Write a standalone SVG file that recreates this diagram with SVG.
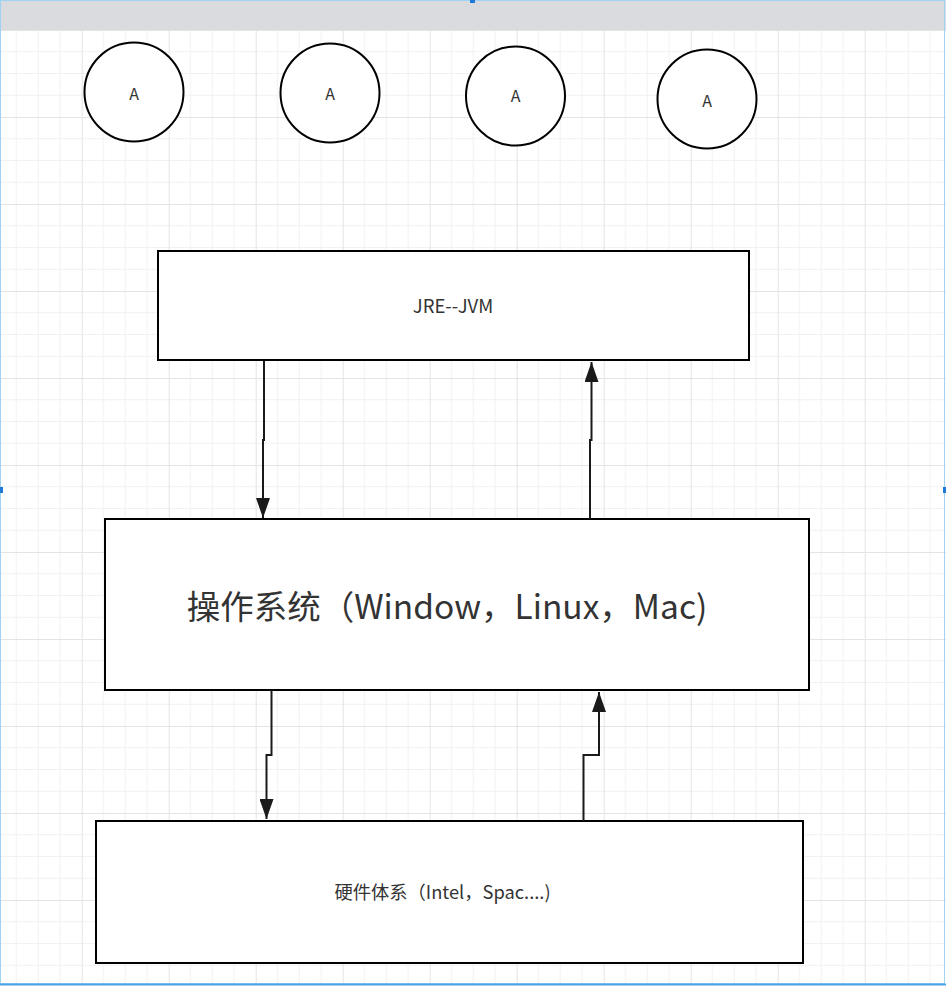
<svg xmlns="http://www.w3.org/2000/svg" width="946" height="986" viewBox="0 0 946 986">
<defs>
<style>
.node{fill:#fff;stroke:#000;stroke-width:2}
.lbl{font-family:"Noto Sans CJK SC","Liberation Sans",sans-serif;fill:#333;text-anchor:middle;dominant-baseline:central}
.edge{fill:none;stroke:#1a1a1a;stroke-width:2}
</style>
<pattern id="grid" x="-5.3" y="30" width="87" height="87" patternUnits="userSpaceOnUse">
<path d="M21.75,0V87M43.5,0V87M65.25,0V87M0,21.75H87M0,43.5H87M0,65.25H87" stroke="#f1f1f1" stroke-width="1" fill="none"/>
<path d="M0.5,0V87M0,0.5H87" stroke="#e4e4e4" stroke-width="1" fill="none"/>
</pattern>
<marker id="arr" viewBox="0 0 20 14" refX="20" refY="7" markerWidth="20" markerHeight="14" markerUnits="userSpaceOnUse" orient="auto">
<path d="M0,0L20,7L0,14z" fill="#1a1a1a"/>
</marker>
</defs>
<rect x="0" y="0" width="946" height="986" fill="#fff"/>
<rect x="0" y="30" width="946" height="956" fill="url(#grid)"/>
<rect x="0" y="0" width="946" height="30" fill="#d9dbde"/>
<g id="frame">
<rect x="0.5" y="0.5" width="944" height="983" fill="none" stroke="#9fd3f3" stroke-width="1"/>
<line x1="0" y1="984.5" x2="946" y2="984.5" stroke="#4aa3e6" stroke-width="2"/>
<rect x="470" y="0" width="5" height="3" fill="#1e7ad6"/>
<rect x="0" y="487" width="3" height="6" fill="#1e7ad6"/>
<rect x="943" y="487" width="3" height="6" fill="#1e7ad6"/>
</g>
<g id="c1"><circle class="node" cx="134" cy="92" r="49.5"/><text class="lbl" x="134" y="93" font-size="16">A</text></g>
<g id="c2"><circle class="node" cx="330" cy="93" r="49.5"/><text class="lbl" x="330" y="93" font-size="16">A</text></g>
<g id="c3"><circle class="node" cx="515.5" cy="96" r="49.5"/><text class="lbl" x="515.5" y="95" font-size="16">A</text></g>
<g id="c4"><circle class="node" cx="707" cy="99" r="49.5"/><text class="lbl" x="707" y="100" font-size="16">A</text></g>
<g id="jre"><rect class="node" x="158" y="251" width="591" height="109"/><text class="lbl" x="453" y="305" font-size="18.5">JRE--JVM</text></g>
<g id="os"><rect class="node" x="105" y="519" width="704" height="171"/><text class="lbl" x="447" y="604" font-size="33.5">操作系统（Window，Linux，Mac)</text></g>
<g id="hw"><rect class="node" x="96" y="821" width="707" height="142"/><text class="lbl" x="442.5" y="891" font-size="18.3">硬件体系（Intel，Spac....)</text></g>
<g id="connectors">
<path class="edge" d="M264,361V440H263V518" marker-end="url(#arr)"/>
<path class="edge" d="M590,519V440H591.5V362" marker-end="url(#arr)"/>
<path class="edge" d="M271.5,690V755H266.5V819" marker-end="url(#arr)"/>
<path class="edge" d="M583.5,821V755H599V692" marker-end="url(#arr)"/>
</g>
</svg>
